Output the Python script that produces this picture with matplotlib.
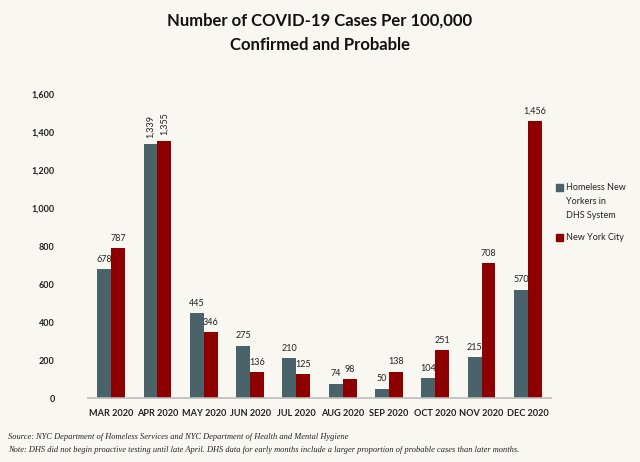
import numpy as np
import matplotlib
matplotlib.use('Agg')
import matplotlib.pyplot as plt
from matplotlib.patches import Rectangle

# Data
months = ['MAR 2020', 'APR 2020', 'MAY 2020', 'JUN 2020', 'JUL 2020',
          'AUG 2020', 'SEP 2020', 'OCT 2020', 'NOV 2020', 'DEC 2020']
homeless = [678, 1339, 445, 275, 210, 74, 50, 104, 215, 570]
nyc = [787, 1355, 346, 136, 125, 98, 138, 251, 708, 1456]
series_names = ['Homeless New\nYorkers in\nDHS System', 'New York City']
yticks = [0, 200, 400, 600, 800, 1000, 1200, 1400, 1600]

bg = '#F8F7F1'
c_homeless = '#4A626A'
c_nyc = '#8E0000'

plt.rcParams['font.family'] = ['Lato', 'DejaVu Sans']

fig = plt.figure(figsize=(6.4, 4.62), dpi=100, facecolor=bg)
ax = fig.add_axes([0.1375, 0.1385, 0.7235, 0.658], facecolor=bg)

x = np.arange(len(months))
w = 0.3
b1 = ax.bar(x - w / 2, homeless, w, color=c_homeless)
b2 = ax.bar(x + w / 2, nyc, w, color=c_nyc)

# Value labels (April ones are rotated in the original)
for bars, vals in ((b1, homeless), (b2, nyc)):
    for i, (rect, v) in enumerate(zip(bars, vals)):
        cx = rect.get_x() + rect.get_width() / 2
        rot = 90 if months[i] == 'APR 2020' else 0
        ax.annotate(f'{v:,}', (cx, v), xytext=(0, 4), textcoords='offset points',
                    ha='center', va='bottom', rotation=rot, fontsize=6.5, color='#222222')

ax.set_xlim(-0.5, len(months) - 0.5)
ax.set_ylim(0, 1600)
ax.set_yticks(yticks)
ax.set_yticklabels([f'{t:,}' for t in yticks], fontsize=6.5, fontweight='bold', color='#222222')
ax.set_xticks(x)
ax.set_xticklabels(months, fontsize=6.6, fontweight='bold', color='#222222')
ax.tick_params(axis='both', length=0)
ax.tick_params(axis='y', pad=24)
ax.tick_params(axis='x', pad=8)
for s in ('top', 'right', 'left'):
    ax.spines[s].set_visible(False)
ax.spines['bottom'].set_color('#BBBBBB')
ax.spines['bottom'].set_linewidth(1.2)

fig.text(0.5, 0.955, 'Number of COVID-19 Cases Per 100,000', ha='center', va='center',
         fontsize=12, fontweight='bold', color='#111111')
fig.text(0.5, 0.903, 'Confirmed and Probable', ha='center', va='center',
         fontsize=12, fontweight='bold', color='#111111')

# Legend drawn by hand so the square sits beside the first text line
W, H = 640, 462
for (ytop, name, col) in ((184, series_names[0], c_homeless), (234, series_names[1], c_nyc)):
    fig.patches.append(Rectangle((556 / W, 1 - (ytop + 7) / H), 7 / W, 7 / H,
                                 transform=fig.transFigure, color=col))
    fig.text(566 / W, 1 - (ytop - 1.5) / H, name, ha='left', va='top', fontsize=6.5,
             color='#222222', linespacing=1.75)

fig.text(0.013, 0.055, 'Source: NYC Department of Homeless Services and NYC Department of Health and Mental Hygiene',
         family=['Liberation Serif'], style='italic', fontsize=6, color='#222222', va='center')
fig.text(0.013, 0.027, 'Note: DHS did not begin proactive testing until late April. DHS data for early months include a larger proportion of probable cases than later months.',
         family=['Liberation Serif'], style='italic', fontsize=6, color='#222222', va='center')

fig.savefig('out.png', dpi=100, facecolor=bg)
